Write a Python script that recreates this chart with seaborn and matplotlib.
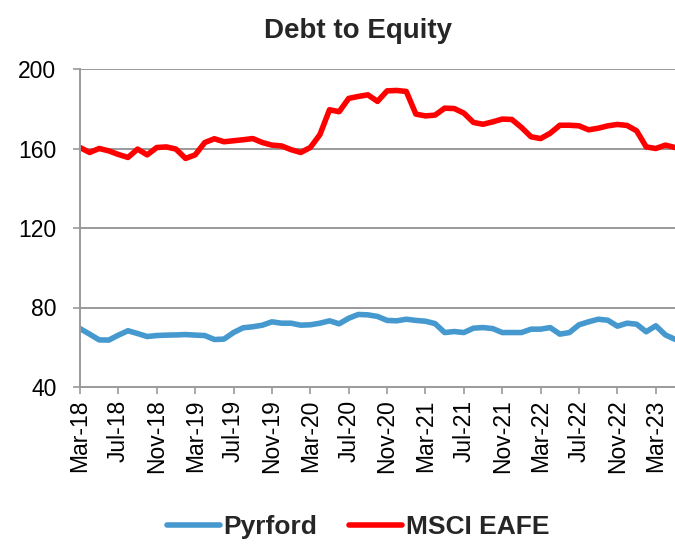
import pandas as pd
import seaborn as sns
import matplotlib.pyplot as plt

# monthly data, Mar-18 .. May-23
pyrford = [69.4, 66.6, 63.7, 63.6, 66.1, 68.3, 66.9, 65.4, 65.9, 66.1,
           66.2, 66.4, 66.1, 65.9, 63.9, 64.1, 67.4, 69.8, 70.3, 71.1,
           72.8, 72.1, 72.1, 71.1, 71.3, 72.1, 73.3, 71.8, 74.6, 76.5,
           76.3, 75.5, 73.5, 73.3, 74.1, 73.5, 73.1, 71.9, 67.4, 67.9,
           67.4, 69.6, 69.9, 69.4, 67.4, 67.4, 67.4, 69.1, 69.1, 69.9,
           66.6, 67.4, 71.3, 72.8, 74.1, 73.6, 70.6, 72.1, 71.6, 67.8,
           70.8, 66.2, 64.0]
msci_eafe = [160.5, 158.0, 160.0, 158.8, 157.0, 155.5, 159.7, 156.8, 160.5, 160.8,
             159.7, 155.0, 156.8, 163.0, 164.9, 163.4, 163.9, 164.4, 165.0, 163.0,
             161.7, 161.3, 159.4, 158.0, 160.5, 167.0, 179.5, 178.5, 185.2, 186.2,
             187.0, 183.7, 189.0, 189.2, 188.7, 177.3, 176.4, 176.8, 180.3, 180.1,
             177.8, 173.1, 172.2, 173.4, 174.8, 174.6, 170.6, 165.9, 165.0, 167.7,
             171.7, 171.7, 171.4, 169.4, 170.2, 171.4, 172.1, 171.6, 168.9, 160.8,
             160.0, 161.7, 160.5]
tick_labels = ['Mar-18', 'Jul-18', 'Nov-18', 'Mar-19', 'Jul-19', 'Nov-19',
               'Mar-20', 'Jul-20', 'Nov-20', 'Mar-21', 'Jul-21', 'Nov-21',
               'Mar-22', 'Jul-22', 'Nov-22', 'Mar-23']
y_ticks = [40, 80, 120, 160, 200]

n = len(pyrford)
df = pd.DataFrame({
    'month': list(range(n)) * 2,
    'value': pyrford + msci_eafe,
    'series': ['Pyrford'] * n + ['MSCI EAFE'] * n,
})

sns.set_style('white')
plt.rcParams['font.family'] = ['Liberation Sans', 'DejaVu Sans']

fig = plt.figure(figsize=(6.75, 5.44), dpi=100)
ax = fig.add_axes([80 / 675, 157 / 544, 595 / 675, 318 / 544])

sns.lineplot(data=df, x='month', y='value', hue='series',
             palette={'Pyrford': '#4599CF', 'MSCI EAFE': '#FF0000'},
             linewidth=4.0, ax=ax, legend=True)
for line in ax.lines:
    line.set_solid_capstyle('round')
    line.set_solid_joinstyle('round')

ax.set_xlim(0, n - 1)
ax.set_ylim(40, 200)
ax.set_yticks(y_ticks)
ax.set_xticks(range(0, n, 4))
ax.set_xticklabels(tick_labels, rotation=90)
ax.set_xlabel('')
ax.set_ylabel('')
for y in y_ticks[1:]:
    ax.axhline(y, color='#9a9a9a', lw=1.4, zorder=0)

for side in ['top', 'right']:
    ax.spines[side].set_visible(False)
for side in ['left', 'bottom']:
    ax.spines[side].set_color('#9a9a9a')
    ax.spines[side].set_linewidth(1.4)
ax.tick_params(axis='both', labelsize=16.5, colors='#9a9a9a', labelcolor='black',
               length=5, width=1.2, direction='out')
ax.tick_params(axis='x', pad=4)
ax.tick_params(axis='y', pad=12)
ax.tick_params(axis='y', left=True)
ax.tick_params(axis='x', bottom=True)

fig.text(358 / 675, 513 / 544, 'Debt to Equity', ha='center', va='center',
         fontsize=20, fontweight='bold')

handles, labels = ax.get_legend_handles_labels()
ax.legend(handles, labels, loc='center', bbox_to_anchor=(358 / 675, 17 / 544),
          bbox_transform=fig.transFigure, ncol=2, frameon=False,
          prop={'weight': 'bold', 'size': 19}, handlelength=2.0,
          handletextpad=0.15, columnspacing=1.2)

plt.savefig('out.png', dpi=100)
